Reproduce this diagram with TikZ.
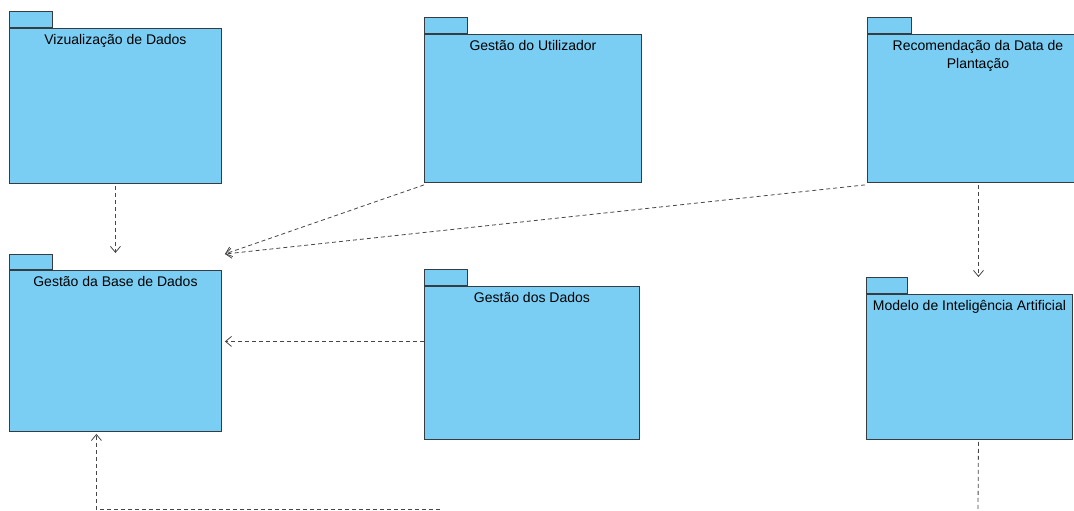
\documentclass[tikz,border=0pt]{standalone}
\usepackage{fontspec}
\setmainfont{Liberation Sans}
\usetikzlibrary{arrows.meta,calc}
\definecolor{pkgfill}{RGB}{122,206,244}
\definecolor{pkgline}{RGB}{55,60,65}
\definecolor{depline}{RGB}{70,70,70}
\begin{document}
\begin{tikzpicture}[x=1pt,y=-1pt,
  pkgbody/.style={draw=pkgline,fill=pkgfill,line width=0.9pt,anchor=north west,inner sep=0pt},
  pkgtab/.style={draw=pkgline,fill=pkgfill,line width=0.9pt,anchor=south west,inner sep=0pt,minimum width=43pt,minimum height=16pt},
  pkgtitle/.style={font=\fontsize{14}{18.5}\selectfont,inner sep=0pt,anchor=north,align=center},
  deplink/.style={draw=depline,line width=0.8pt,dash pattern=on 4pt off 3pt},
  dep/.style={deplink,-{Straight Barb[length=6pt,width=10pt]}}]
\useasboundingbox (0,0) rectangle (1074,511);
\clip (0,0) rectangle (1074,511);

% packages
\node[pkgbody,minimum width=212pt,minimum height=155pt] (viz) at (9,28) {};
\node[pkgtab] (viztab) at (viz.north west) {};
\node[pkgtitle] (viztitle) at ($(viz.north)+(0,5.8)$) {Vizualização de Dados};

\node[pkgbody,minimum width=217pt,minimum height=148pt] (util) at (424,34) {};
\node[pkgtab] (utiltab) at (util.north west) {};
\node[pkgtitle] (utiltitle) at ($(util.north)+(0,5.8)$) {Gestão do Utilizador};

\node[pkgbody,minimum width=221pt,minimum height=148pt] (rec) at (867,34) {};
\node[pkgtab,minimum width=44pt] (rectab) at (rec.north west) {};
\node[pkgtitle] (rectitle) at ($(rec.north)+(0,5.8)$) {Recomendação da Data de\\Plantação};

\node[pkgbody,minimum width=212pt,minimum height=161pt] (gbd) at (9,270) {};
\node[pkgtab,minimum height=15pt] (gbdtab) at (gbd.north west) {};
\node[pkgtitle] (gbdtitle) at ($(gbd.north)+(0,5.8)$) {Gestão da Base de Dados};

\node[pkgbody,minimum width=215pt,minimum height=153pt] (gdd) at (424,286) {};
\node[pkgtab] (gddtab) at (gdd.north west) {};
\node[pkgtitle] (gddtitle) at ($(gdd.north)+(0,5.8)$) {Gestão dos Dados};

\node[pkgbody,minimum width=206pt,minimum height=145pt] (ia) at (866,294) {};
\node[pkgtab,minimum width=41pt] (iatab) at (ia.north west) {};
\node[pkgtitle] (iatitle) at ($(ia.north)+(0,5.8)$) {Modelo de Inteligência Artificial};

% dependencies
\draw[dep] ($(viz.south)+(0,2)$) -- ($(gbd.north)+(0,-17)$);
\draw[dep] ($(util.south west)+(0,2)$) -- ($(gbd.north east)+(3,-16)$);
\draw[dep] ($(rec.south west)+(-2,2)$) -- ($(gbd.north east)+(3,-16)$);
\draw[dep] ($(gdd.west)+(0,-21.5)$) -- ($(gbd.east)+(3,-9.5)$);
\draw[dep] ($(rec.south)+(0.5,2)$) -- ($(ia.north)+(9,-17)$);

\coordinate (iaout) at (978,512);
\draw[deplink] ($(ia.south)+(9,2)$) -- (iaout);

\coordinate (bottomin) at (440,509);
\draw[dep] (bottomin) -| ($(gbd.south)+(-19,2)$);
\end{tikzpicture}
\end{document}
